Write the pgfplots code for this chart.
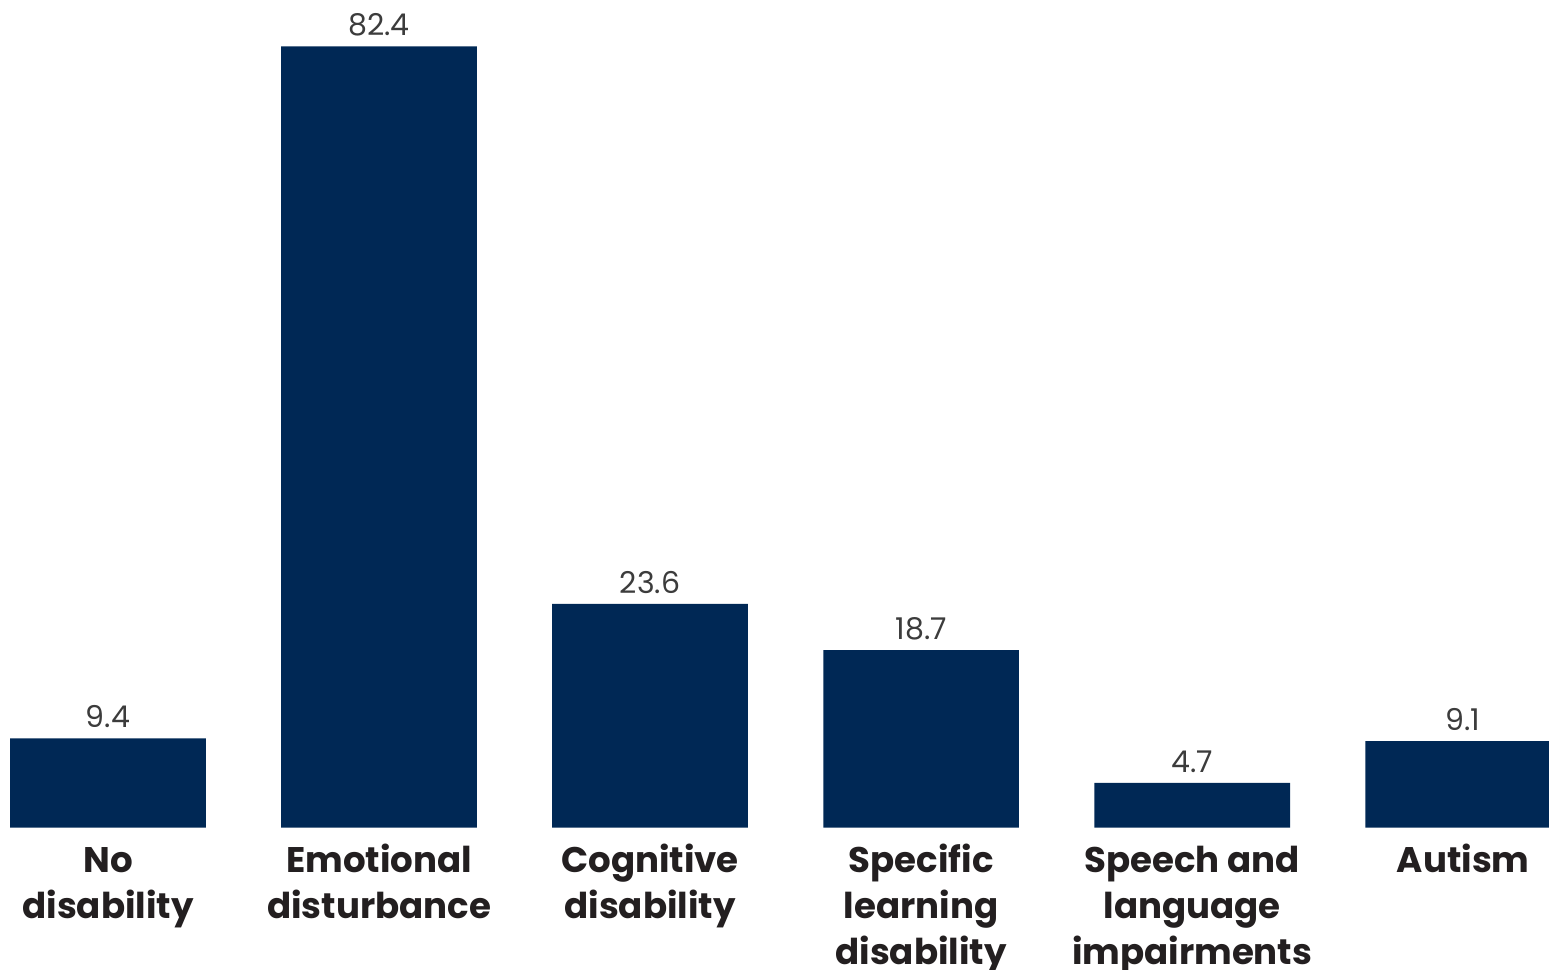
\documentclass[border=0pt]{standalone}
\usepackage{pgfplots}
\pgfplotsset{compat=1.18}
\usepackage{fontspec}
\setmainfont{Poppins}
\definecolor{barnavy}{RGB}{0,40,85}
\definecolor{labelink}{RGB}{35,31,32}
\definecolor{valueink}{RGB}{60,60,60}
\begin{document}
\begin{tikzpicture}
% fixed page frame: the last bar and the third label line run past it
\path[use as bounding box] (0,-71.25pt) rectangle (774.5pt,413.75pt);
\begin{axis}[
  scale only axis,
  width=774.5pt, height=413.75pt,
  at={(0,0)}, anchor=south west,
  xmin=-0.3985, xmax=5.3166,
  ymin=0, ymax=87.3,
  hide y axis,
  axis x line*=bottom,
  x axis line style={draw=none},
  major tick length=0pt,
  ybar, bar width=0.722,
  xtick=data,
  xticklabels={{\strut No\\disability},{\strut Emotional\\disturbance},{\strut Cognitive\\disability},{\strut Specific\\learning\\disability},{\strut Speech and\\language\\impairments},{\strut Autism}},
  xticklabel style={align=center, font=\bfseries\fontsize{17.8}{23}\selectfont, text=labelink, anchor=north, yshift=-3pt},
  /pgf/number format/assume math mode=true,
  nodes near coords={\pgfmathprintnumber[fixed,fixed zerofill,precision=1]{\pgfplotspointmeta}},
  nodes near coords style={font=\fontsize{15}{18}\selectfont, text=valueink, anchor=south, inner sep=2pt, yshift=3pt},
]
\addplot[fill=barnavy, draw=none] coordinates {
  (0,9.4) (1,82.4) (2,23.6) (3,18.7) (4,4.7) (5,9.1)
};
\end{axis}
\end{tikzpicture}
\end{document}
